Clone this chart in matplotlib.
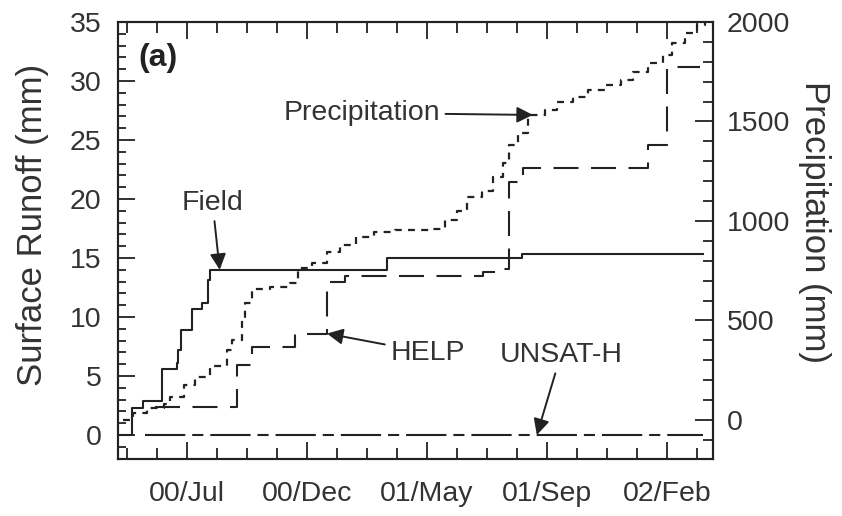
import matplotlib
matplotlib.use('Agg')
import matplotlib.pyplot as plt
from matplotlib.ticker import MultipleLocator, FixedLocator

plt.rcParams['font.family'] = ['Liberation Sans', 'DejaVu Sans']
plt.rcParams['lines.scale_dashes'] = False

INK = '#222222'
TXT = '#333333'

# days since 00/Jul (tick labels every 150 days)
tick_days = [0, 150, 300, 450, 600]
tick_labels = ['00/Jul', '00/Dec', '01/May', '01/Sep', '02/Feb']

# Field measured runoff (mm)
field_day = [-86, -69, -55, -31, -12.5, -11, -7.5, 6, 19, 26, 29, 250, 419, 645]
field_mm = [0, 2.3, 2.9, 5.6, 6.1, 7.2, 8.9, 10.7, 11.2, 13.1, 14.0, 15.0, 15.3, 15.3]

# HELP simulated runoff (mm)
help_day = [-40, 62.5, 81, 135, 175, 197.5, 370, 391, 402.5, 420, 576, 600, 641]
help_mm = [2.4, 5.9, 7.5, 8.6, 13.0, 13.5, 13.8, 14.1, 21.4, 22.6, 24.6, 31.2, 31.2]

# UNSAT-H simulated runoff (mm)
unsat_day = [-52, 645]
unsat_mm = [0, 0]

# cumulative precipitation (mm)
precip_day = [-80, -67.5, -50, -29, -21, -4, 10, 29, 50, 56, 69, 72, 81, 104, 129,
              139, 156, 175, 191, 211, 234, 260, 307, 322, 337, 350, 369, 382,
              395, 402, 414, 426, 447, 462, 482, 501, 522, 542, 557, 576, 594,
              606, 622, 637, 647]
precip_mm = [0, 35, 60, 80, 117, 176, 216, 271, 352, 402, 520, 588, 660, 670, 688,
             764, 789, 844, 879, 920, 945, 955, 960, 1005, 1050, 1121, 1151, 1221,
             1291, 1382, 1442, 1533, 1560, 1598, 1623, 1658, 1683, 1709, 1749, 1794,
             1834, 1894, 1945, 1985, 2000]

fig = plt.figure(figsize=(8.42, 5.16), dpi=100)
ax = fig.add_axes([118/842, 1 - 459/516, 595/842, 437/516])
ax2 = ax.twinx()

# runoff series
ax.plot(field_day, field_mm, drawstyle='steps-post', color=INK, lw=1.5)
ax.plot(help_day, help_mm, drawstyle='steps-post', color=INK, lw=1.5,
        dashes=(18, 9))
ax.plot(unsat_day, unsat_mm, color=INK, lw=1.5, dashes=(29, 5, 8, 5))
# precipitation
ax2.plot(precip_day, precip_mm, drawstyle='steps-post', color=INK, lw=1.6,
         dashes=(5, 4.5))

ax.set_xlim(-86, 657)
ax.set_ylim(-2.03, 35)
ax2.set_ylim(-196, 2000)

ax.xaxis.set_major_locator(FixedLocator(tick_days))
ax.set_xticklabels(tick_labels)
ax.xaxis.set_minor_locator(MultipleLocator(37.5))
ax.yaxis.set_major_locator(MultipleLocator(5))
ax.yaxis.set_minor_locator(MultipleLocator(1))
ax2.yaxis.set_major_locator(MultipleLocator(500))
ax2.yaxis.set_minor_locator(MultipleLocator(100))

for a in (ax, ax2):
    for s in a.spines.values():
        s.set_linewidth(1.5)
        s.set_color(INK)

ax.tick_params(axis='x', which='both', direction='in', top=True, bottom=True,
               color=INK, width=1.3, labelsize=20.5, labelcolor=TXT, pad=16)
ax.tick_params(axis='x', which='major', length=12)
ax.tick_params(axis='x', which='minor', length=8)
ax.tick_params(axis='y', which='both', direction='in', left=True, right=False,
               color=INK, width=1.3, labelsize=20.5, labelcolor=TXT, pad=12)
ax.tick_params(axis='y', which='major', length=12)
ax.tick_params(axis='y', which='minor', length=6)
ax2.tick_params(axis='y', which='both', direction='in', right=True, left=False,
                color=INK, width=1.3, labelsize=20.5, labelcolor=TXT, pad=10)
ax2.tick_params(axis='y', which='major', length=13)
ax2.tick_params(axis='y', which='minor', length=7)

fig.text(33/842, 1 - 225/516, 'Surface Runoff (mm)', rotation=90, ha='center',
         va='center', fontsize=25, color=TXT)
fig.text(815/842, 1 - 222/516, 'Precipitation (mm)', rotation=270, ha='center',
         va='center', fontsize=25, color=TXT)

ax.text(-61, 31.3, '(a)', fontsize=23, fontweight='bold', color=INK,
        ha='left', va='baseline')

arrow = dict(arrowstyle='-|>', mutation_scale=24, lw=1.4, color=INK,
             shrinkA=2, shrinkB=0)
# Field
ax.annotate('Field', xy=(41, 14.0), xytext=(32, 19.1), fontsize=20.5,
            color=TXT, ha='center', va='baseline', arrowprops=arrow)
# Precipitation
ax2.annotate('Precipitation', xy=(432, 1533), xytext=(316, 1508), fontsize=20.5,
             color=TXT, ha='right', va='baseline', arrowprops=arrow)
# HELP
ax.annotate('HELP', xy=(175, 8.6), xytext=(254, 6.4), fontsize=20.5,
            color=TXT, ha='left', va='baseline', arrowprops=arrow)
# UNSAT-H
ax.annotate('UNSAT-H', xy=(437, 0.0), xytext=(467, 6.2), fontsize=20.5,
            color=TXT, ha='center', va='baseline', arrowprops=arrow)

fig.savefig('out.png', dpi=100)
